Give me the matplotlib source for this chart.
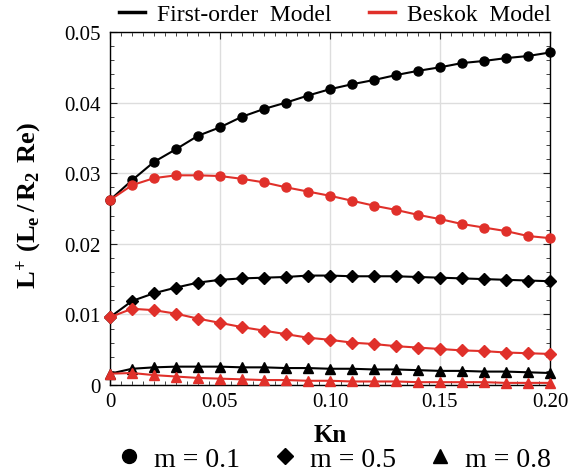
import numpy as np
import matplotlib
matplotlib.use("Agg")
import matplotlib.pyplot as plt
from matplotlib.lines import Line2D
from matplotlib.ticker import MultipleLocator, FixedLocator

plt.rcParams['font.family'] = ['Liberation Serif', 'DejaVu Serif']
plt.rcParams['mathtext.fontset'] = 'custom'
plt.rcParams['mathtext.rm'] = 'Liberation Serif'
plt.rcParams['mathtext.bf'] = 'Liberation Serif:bold'

kn = [0.00, 0.01, 0.02, 0.03, 0.04, 0.05, 0.06, 0.07, 0.08, 0.09, 0.10,
      0.11, 0.12, 0.13, 0.14, 0.15, 0.16, 0.17, 0.18, 0.19, 0.20]

first_m01 = [0.0262, 0.0290, 0.0316, 0.0334, 0.0353, 0.0365, 0.0380, 0.0391, 0.0400, 0.0410, 0.0419,
             0.0426, 0.0432, 0.0439, 0.0445, 0.0450, 0.0456, 0.0459, 0.0463, 0.0466, 0.0471]
beskok_m01 = [0.0262, 0.0283, 0.0293, 0.0297, 0.0297, 0.0296, 0.0292, 0.0287, 0.0280, 0.0274, 0.0268,
              0.0261, 0.0254, 0.0248, 0.0241, 0.0235, 0.0228, 0.0223, 0.0218, 0.0211, 0.0208]
first_m05 = [0.0096, 0.0119, 0.0130, 0.0138, 0.0145, 0.0149, 0.0151, 0.0152, 0.0153, 0.0155, 0.0155,
             0.0154, 0.0154, 0.0154, 0.0153, 0.0152, 0.0151, 0.0150, 0.0149, 0.0148, 0.0147]
beskok_m05 = [0.0096, 0.0108, 0.0106, 0.0101, 0.0094, 0.0088, 0.0082, 0.0077, 0.0072, 0.0067, 0.0064,
              0.0060, 0.0058, 0.0055, 0.0053, 0.0051, 0.0049, 0.0048, 0.0046, 0.0045, 0.0044]
first_m08 = [0.0016, 0.0023, 0.0025, 0.0026, 0.0026, 0.0026, 0.0025, 0.0025, 0.0024, 0.0024, 0.0023,
             0.0023, 0.0022, 0.0022, 0.0021, 0.0020, 0.0020, 0.0019, 0.0019, 0.0018, 0.0017]
beskok_m08 = [0.0016, 0.0017, 0.0014, 0.0012, 0.0010, 0.0009, 0.0008, 0.0007, 0.0007, 0.0006, 0.0006,
              0.0005, 0.0005, 0.0005, 0.0004, 0.0004, 0.0004, 0.0004, 0.0003, 0.0003, 0.0003]

x_ticks = [0, 0.05, 0.10, 0.15, 0.20]
x_ticklabels = ["0", "0.05", "0.10", "0.15", "0.20"]
y_ticks = [0, 0.01, 0.02, 0.03, 0.04, 0.05]
y_ticklabels = ["0", "0.01", "0.02", "0.03", "0.04", "0.05"]

BLACK = "#000000"
RED = "#e0302a"

fig = plt.figure(figsize=(5.73, 4.77), dpi=100)
ax = fig.add_axes([110/573, 1-386/477, 440/573, 353/477])

series = [
    (first_m01, BLACK, 'o', 6.5),
    (beskok_m01, RED, 'o', 6.5),
    (first_m05, BLACK, 'D', 6.0),
    (beskok_m05, RED, 'D', 6.0),
    (first_m08, BLACK, '^', 7.0),
    (beskok_m08, RED, '^', 7.0),
]
for ys, c, mk, ms in series:
    ax.plot(kn, ys, color=c, lw=1.5, marker=mk, ms=ms, mfc=c, mec=c, clip_on=False, zorder=3)

ax.set_xlim(0, 0.20)
ax.set_ylim(0, 0.05)
ax.xaxis.set_major_locator(FixedLocator(x_ticks))
ax.set_xticklabels(x_ticklabels)
ax.yaxis.set_major_locator(FixedLocator(y_ticks))
ax.set_yticklabels(y_ticklabels)
ax.xaxis.set_minor_locator(MultipleLocator(0.005))
ax.yaxis.set_minor_locator(MultipleLocator(0.002))
ax.tick_params(which='both', direction='in', top=True, right=True, labelsize=15, color='#222222')
ax.tick_params(which='major', length=5, width=0.8)
ax.tick_params(which='minor', length=3, width=0.6)
ax.tick_params(axis='y', which='major', pad=7)
ax.tick_params(axis='x', which='major', pad=5)
ax.grid(True, which='major', color='#dddddd', lw=1.0, zorder=0)
ax.set_axisbelow(True)
for s in ax.spines.values():
    s.set_linewidth(1.0)

ax.set_xlabel("Kn", fontsize=18, fontweight='bold')
ax.xaxis.set_label_coords(0.5, -0.108)
ax.set_ylabel(r"$\mathbf{L^{\!+}\,(L_e\,/\,R_2\ Re)}$", fontsize=19)
ax.yaxis.set_label_coords(-0.152, 0.51)

h_top = [Line2D([], [], color=BLACK, lw=2.5), Line2D([], [], color=RED, lw=2.5)]
fig.legend(h_top, ["First-order  Model", "Beskok  Model"], loc='center', bbox_to_anchor=(0.585, 1-15/477),
           ncol=2, frameon=False, fontsize=17, handlelength=1.1, handletextpad=0.5, columnspacing=1.6,
           borderaxespad=0)

h_bot = [Line2D([], [], color=BLACK, lw=0, marker='o', ms=10),
         Line2D([], [], color=BLACK, lw=0, marker='D', ms=8),
         Line2D([], [], color=BLACK, lw=0, marker='^', ms=10)]
fig.legend(h_bot, ["m = 0.1", "m = 0.5", "m = 0.8"], loc='center', bbox_to_anchor=(0.584, 1-460/477),
           ncol=3, frameon=False, fontsize=20, handlelength=0.8, handletextpad=0.5, columnspacing=1.2,
           borderaxespad=0)

fig.savefig("out.png", dpi=100)
